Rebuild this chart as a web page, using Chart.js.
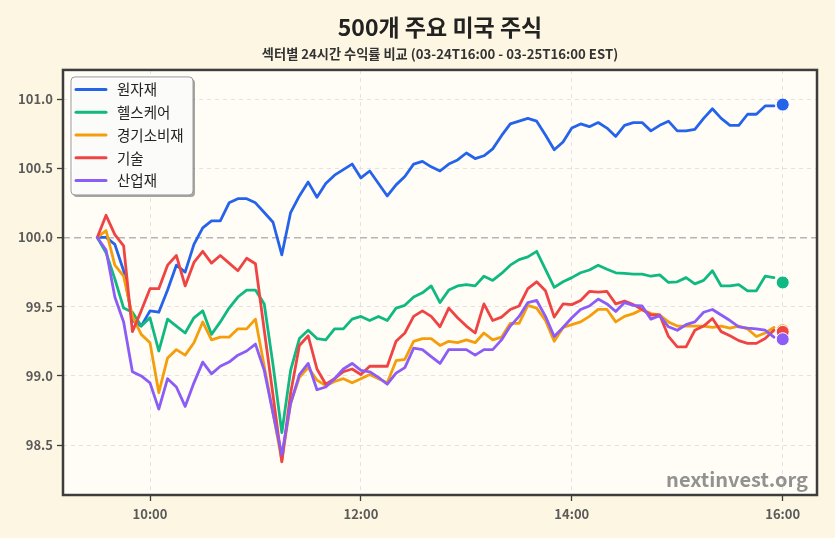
<!DOCTYPE html>
<html>
<head>
<meta charset="utf-8">
<script src="https://cdn.jsdelivr.net/npm/chart.js@4.4.1/dist/chart.umd.min.js"></script>
<style>
  html, body { margin: 0; padding: 0; background: #fdf6e3; }
  #wrap { width: 835px; height: 538px; }
</style>
</head>
<body>
<div id="wrap"><canvas id="c" width="835" height="538"></canvas></div>
<script>
// ---------- DATA ----------
const times = [
  "09:30","09:35","09:40","09:45","09:50","09:55","10:00","10:05","10:10","10:15","10:20","10:25",
  "10:30","10:35","10:40","10:45","10:50","10:55","11:00","11:05","11:10","11:15","11:20","11:25",
  "11:30","11:35","11:40","11:45","11:50","11:55","12:00","12:05","12:10","12:15","12:20","12:25",
  "12:30","12:35","12:40","12:45","12:50","12:55","13:00","13:05","13:10","13:15","13:20","13:25",
  "13:30","13:35","13:40","13:45","13:50","13:55","14:00","14:05","14:10","14:15","14:20","14:25",
  "14:30","14:35","14:40","14:45","14:50","14:55","15:00","15:05","15:10","15:15","15:20","15:25",
  "15:30","15:35","15:40","15:45","15:50","15:55"
];
const finalTime = "16:00";

const seriesNames = ["원자재", "헬스케어", "경기소비재", "기술", "산업재"];

const materials = [
  100.00,100.00,99.95,99.76,99.40,99.36,99.47,99.46,99.62,99.80,99.75,99.95,
  100.07,100.12,100.12,100.25,100.28,100.28,100.25,100.18,100.11,99.875,100.18,100.30,
  100.40,100.29,100.39,100.45,100.49,100.53,100.43,100.48,100.39,100.30,100.38,100.44,
  100.53,100.55,100.51,100.48,100.53,100.56,100.61,100.57,100.59,100.64,100.735,100.82,
  100.84,100.86,100.84,100.74,100.634,100.69,100.79,100.82,100.80,100.83,100.79,100.73,
  100.81,100.83,100.83,100.77,100.81,100.84,100.77,100.77,100.78,100.86,100.93,100.86,
  100.81,100.81,100.89,100.89,100.95,100.95
];
const healthcare = [
  100.00,99.89,99.70,99.49,99.46,99.36,99.42,99.18,99.41,99.36,99.31,99.42,
  99.47,99.30,99.39,99.49,99.57,99.62,99.62,99.52,99.08,98.59,99.04,99.27,
  99.33,99.27,99.26,99.34,99.34,99.41,99.43,99.40,99.43,99.40,99.49,99.51,
  99.57,99.60,99.65,99.53,99.62,99.65,99.66,99.65,99.72,99.69,99.74,99.80,
  99.84,99.86,99.90,99.77,99.64,99.68,99.71,99.745,99.765,99.80,99.77,99.745,
  99.74,99.735,99.735,99.72,99.73,99.675,99.68,99.71,99.665,99.69,99.76,99.65,
  99.65,99.66,99.615,99.615,99.72,99.71
];
const consumerDisc = [
  100.00,100.05,99.80,99.72,99.43,99.30,99.24,98.88,99.13,99.19,99.15,99.24,
  99.39,99.26,99.28,99.28,99.34,99.34,99.41,99.07,98.73,98.39,98.80,98.99,
  99.06,98.97,98.93,98.96,98.98,98.95,98.98,99.01,98.98,98.95,99.11,99.12,
  99.25,99.27,99.27,99.22,99.25,99.24,99.26,99.24,99.31,99.26,99.28,99.38,
  99.38,99.51,99.49,99.40,99.25,99.35,99.37,99.39,99.43,99.48,99.48,99.39,
  99.43,99.45,99.48,99.45,99.44,99.39,99.36,99.36,99.36,99.36,99.35,99.36,
  99.345,99.36,99.34,99.285,99.31,99.35
];
const technology = [
  100.00,100.16,100.02,99.94,99.32,99.47,99.63,99.63,99.80,99.87,99.65,99.82,
  99.90,99.815,99.87,99.815,99.76,99.85,99.81,99.33,98.86,98.38,98.875,99.22,
  99.29,99.05,98.94,98.98,99.03,99.05,99.01,99.07,99.07,99.07,99.25,99.31,
  99.43,99.47,99.43,99.355,99.49,99.42,99.36,99.31,99.52,99.40,99.425,99.48,
  99.505,99.63,99.68,99.615,99.425,99.52,99.515,99.545,99.61,99.605,99.61,99.52,
  99.54,99.515,99.48,99.44,99.44,99.285,99.21,99.21,99.33,99.36,99.415,99.32,
  99.29,99.255,99.235,99.235,99.27,99.33
];
const industrials = [
  100.00,99.91,99.57,99.39,99.03,99.00,98.95,98.76,98.98,98.92,98.78,98.95,
  99.10,99.015,99.07,99.10,99.15,99.18,99.23,99.04,98.73,98.43,98.80,99.01,
  99.09,98.90,98.92,98.98,99.05,99.09,99.04,99.03,98.99,98.94,99.02,99.06,
  99.20,99.19,99.14,99.09,99.19,99.19,99.19,99.15,99.19,99.19,99.26,99.36,
  99.43,99.53,99.545,99.43,99.285,99.35,99.42,99.48,99.505,99.555,99.52,99.465,
  99.53,99.51,99.505,99.41,99.435,99.355,99.33,99.37,99.39,99.46,99.48,99.44,
  99.40,99.355,99.345,99.34,99.33,99.28
];
const finalValues = [100.96, 99.675, 99.33, 99.318, 99.265];

const xTickTimes = ["10:00", "12:00", "14:00", "16:00"];
const xTickLabels = ["10:00", "12:00", "14:00", "16:00"];
const yTickValues = [98.5, 99.0, 99.5, 100.0, 100.5, 101.0];
const yTickLabels = ["98.5", "99.0", "99.5", "100.0", "100.5", "101.0"];

const titleText = "500개 주요 미국 주식";
const subtitleText = "섹터별 24시간 수익률 비교 (03-24T16:00 - 03-25T16:00 EST)";
const watermarkText = "nextinvest.org";

// ---------- STYLE ----------
const colors = ["#2563eb", "#10b981", "#f59e0b", "#ef4444", "#8b5cf6"];
const FONT = "'Noto Sans CJK KR', 'Noto Sans', sans-serif";
const seriesValues = [materials, healthcare, consumerDisc, technology, industrials];

function toMin(t) { const p = t.split(":"); return (+p[0]) * 60 + (+p[1]); }
const firstMin = toMin(times[0]);
const lastMin = toMin(finalTime);
const pad = (lastMin - firstMin) * 0.05;

Chart.defaults.font.family = FONT;

const datasets = [];
seriesValues.forEach((vals, s) => {
  datasets.push({
    label: seriesNames[s],
    data: times.map((t, i) => ({ x: toMin(t), y: vals[i] })),
    borderColor: colors[s],
    backgroundColor: colors[s],
    borderWidth: 2.8,
    pointRadius: 0,
    tension: 0,
    borderJoinStyle: 'round',
    borderCapStyle: 'round',
    order: 10 - s
  });
});
seriesValues.forEach((vals, s) => {
  datasets.push({
    label: seriesNames[s] + " last",
    data: [{ x: toMin(finalTime), y: finalValues[s] }],
    showLine: false,
    pointRadius: 6.5,
    pointBackgroundColor: colors[s],
    pointBorderColor: '#ffffff',
    pointBorderWidth: 1,
    order: -s
  });
});

const framePlugin = {
  id: 'frame',
  beforeDraw(chart) {
    const { ctx, chartArea: a } = chart;
    ctx.save();
    ctx.fillStyle = '#fdf6e3';
    ctx.fillRect(0, 0, chart.width, chart.height);
    ctx.fillStyle = '#fffdf6';
    ctx.fillRect(a.left, a.top, a.right - a.left, a.bottom - a.top);
    ctx.restore();
  },
  afterDraw(chart) {
    const { ctx, chartArea: a } = chart;
    ctx.save();
    // watermark
    ctx.font = "bold 20px " + FONT;
    ctx.fillStyle = 'rgba(110,110,110,0.75)';
    ctx.textAlign = 'right';
    ctx.textBaseline = 'alphabetic';
    ctx.fillText(watermarkText, a.right - 9, a.bottom - 8);
    // frame
    ctx.strokeStyle = '#3d3d3d';
    ctx.lineWidth = 2.5;
    ctx.strokeRect(a.left, a.top, a.right - a.left, a.bottom - a.top);
    // legend
    const bx = a.left + 8, by = a.top + 7, bw = 122, bh = 118, r = 4;
    const rr = (x, y, w, h) => {
      ctx.beginPath();
      ctx.moveTo(x + r, y);
      ctx.arcTo(x + w, y, x + w, y + h, r);
      ctx.arcTo(x + w, y + h, x, y + h, r);
      ctx.arcTo(x, y + h, x, y, r);
      ctx.arcTo(x, y, x + w, y, r);
      ctx.closePath();
    };
    ctx.fillStyle = 'rgba(0,0,0,0.35)';
    rr(bx + 2, by + 2, bw, bh); ctx.fill();
    ctx.fillStyle = 'rgba(255,255,255,0.95)';
    rr(bx, by, bw, bh); ctx.fill();
    ctx.strokeStyle = '#9a9a9a';
    ctx.lineWidth = 1;
    rr(bx, by, bw, bh); ctx.stroke();
    ctx.font = "14.5px " + FONT;
    ctx.textAlign = 'left';
    ctx.textBaseline = 'middle';
    seriesNames.forEach((name, s) => {
      const y = by + 12.5 + s * 22.75;
      ctx.strokeStyle = colors[s];
      ctx.lineWidth = 3;
      ctx.lineCap = 'round';
      ctx.beginPath(); ctx.moveTo(bx + 5, y); ctx.lineTo(bx + 35, y); ctx.stroke();
      ctx.fillStyle = '#222';
      ctx.fillText(name, bx + 46, y + 0.5);
    });
    ctx.restore();
  }
};

const tickFont = { family: FONT, size: 13, weight: 'bold' };

new Chart(document.getElementById('c'), {
  type: 'line',
  data: { datasets },
  plugins: [framePlugin],
  options: {
    responsive: false,
    animation: false,
    devicePixelRatio: 1,
    layout: { padding: { left: 0, right: 18, top: 0, bottom: 0 } },
    plugins: {
      legend: { display: false },
      tooltip: { enabled: false },
      title: {
        display: true, text: titleText, fullSize: false,
        font: { family: FONT, size: 23, weight: 'bold' }, color: '#222',
        padding: { top: 13, bottom: 0 }
      },
      subtitle: {
        display: true, text: subtitleText, fullSize: false,
        font: { family: FONT, size: 13.2, weight: 'bold' }, color: '#333',
        padding: { top: 5, bottom: 8.5 }
      }
    },
    scales: {
      x: {
        type: 'linear',
        min: firstMin - pad,
        max: lastMin + pad,
        afterBuildTicks: (s) => { s.ticks = xTickTimes.map(t => ({ value: toMin(t) })); },
        afterFit: (s) => { s.height = 43; },
        ticks: {
          callback: (v, i) => xTickLabels[i],
          font: tickFont, color: '#5a5a5a', padding: 5, maxRotation: 0, autoSkip: false
        },
        grid: {
          color: '#e2e2e2', lineWidth: 1, tickLength: 6, tickColor: '#3d3d3d', tickWidth: 1.3
        },
        border: { display: false, dash: [4, 4] }
      },
      y: {
        type: 'linear',
        min: 98.14,
        max: 101.21,
        afterBuildTicks: (s) => { s.ticks = yTickValues.map(v => ({ value: v })); },
        afterFit: (s) => { s.width = 63; },
        ticks: {
          callback: (v, i) => yTickLabels[i],
          font: tickFont, color: '#5a5a5a', padding: 4
        },
        grid: {
          color: (c) => (c.tick && c.tick.value === 100) ? '#b5b5b5' : '#e2e2e2',
          lineWidth: (c) => (c.tick && c.tick.value === 100) ? 1.4 : 1,
          tickLength: 6, tickColor: '#3d3d3d', tickWidth: 1.3
        },
        border: { display: false, dash: (c) => (c.tick && c.tick.value === 100) ? [7, 4] : [4, 4] }
      }
    }
  }
});
</script>
</body>
</html>
